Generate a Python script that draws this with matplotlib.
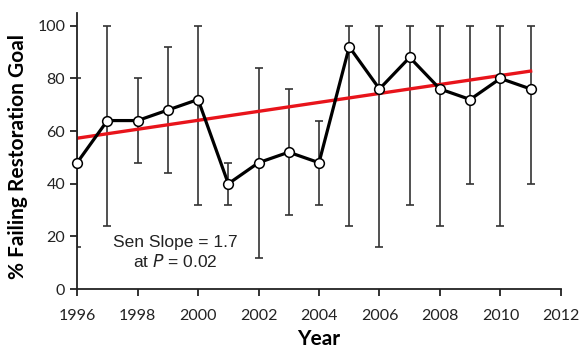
import numpy as np
import matplotlib.pyplot as plt

years = [1996, 1997, 1998, 1999, 2000, 2001, 2002, 2003,
         2004, 2005, 2006, 2007, 2008, 2009, 2010, 2011]
pct_failing = [48, 64, 64, 68, 72, 40, 48, 52, 48, 92, 76, 88, 76, 72, 80, 76]
err_low = [16, 24, 48, 44, 32, 32, 12, 28, 32, 24, 16, 32, 24, 40, 24, 40]
err_high = [80, 100, 80, 92, 100, 48, 84, 76, 64, 100, 100, 100, 100, 100, 100, 100]

sen_slope = 1.7
trend_start = 57.3  # fitted value at first year

x = np.array(years)
y = np.array(pct_failing)
yerr = [y - np.array(err_low), np.array(err_high) - y]

fig = plt.figure(figsize=(5.8, 3.5), dpi=100)
ax = fig.add_axes([0.133, 0.174, 0.834, 0.79])

ax.errorbar(x, y, yerr=yerr, fmt='none', ecolor='#333333', elinewidth=1.2,
            capsize=3, capthick=1.2, zorder=1)
trend = trend_start + sen_slope * (x - x[0])
ax.plot(x, trend, color='#e8141b', lw=2.4, zorder=2)
ax.plot(x, y, color='black', lw=2.3, marker='o', markersize=7,
        markerfacecolor='white', markeredgecolor='black', markeredgewidth=1.1,
        zorder=3, clip_on=False)

ax.text(1999.25, 14.0, 'Sen Slope = 1.7\nat $\\it{P}$ = 0.02', ha='center', va='center',
        fontsize=12.5, family='Liberation Sans', color='#222222', linespacing=1.2)

ax.set_xlim(1996, 2012)
ax.set_ylim(0, 105)
ax.set_xticks(range(1996, 2013, 2))
ax.set_yticks(range(0, 101, 20))
for s in ['top', 'right']:
    ax.spines[s].set_visible(False)
for s in ['left', 'bottom']:
    ax.spines[s].set_linewidth(1.3)
    ax.spines[s].set_color('#222222')
ax.tick_params(axis='both', labelsize=11.5, width=1.3, length=5, color='#222222')
ax.tick_params(axis='x', pad=9)
for lbl in ax.get_xticklabels() + ax.get_yticklabels():
    lbl.set_family('Lato')
    lbl.set_color('#222222')

ax.set_xlabel('Year', fontsize=15, fontweight='bold', family='Lato', labelpad=5)
ax.set_ylabel('% Failing Restoration Goal', fontsize=15, fontweight='bold',
              family='Lato')
ax.yaxis.set_label_coords(-0.102, 0.48)

fig.savefig('out.png', dpi=100)
